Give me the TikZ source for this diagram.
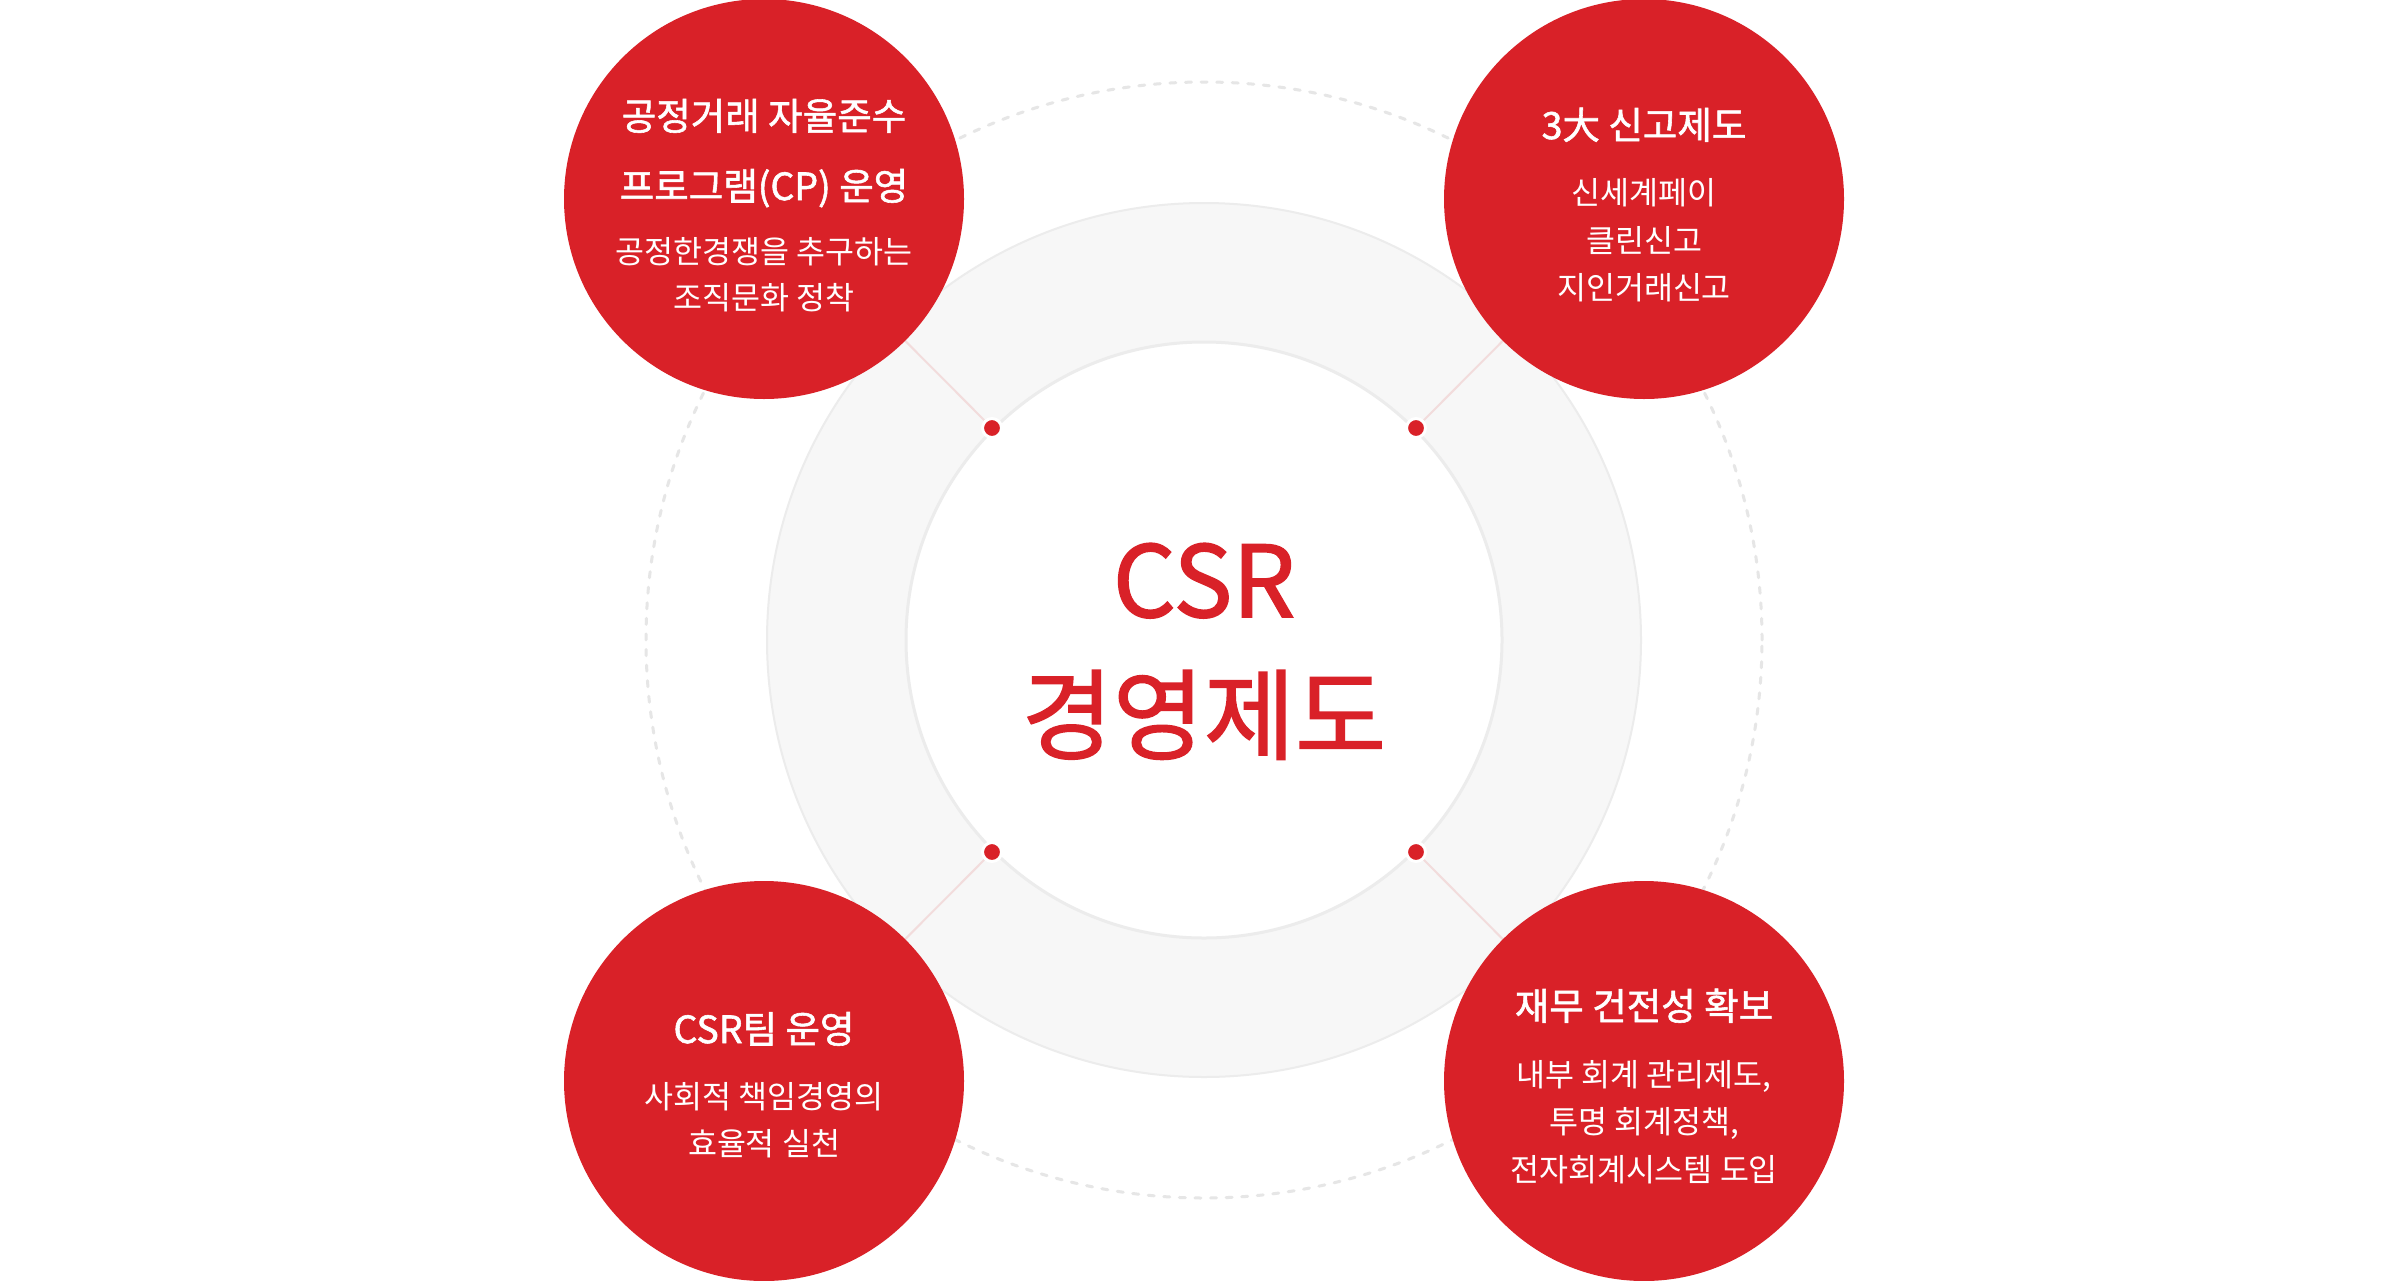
\documentclass[tikz,border=0pt]{standalone}
\usepackage{fontspec}
\setmainfont{Noto Sans CJK KR}
\newfontfamily\krmed[FakeBold=1.5]{Noto Sans CJK KR}
\newfontfamily\krreg{Noto Sans CJK KR}
\usetikzlibrary{backgrounds}
\definecolor{csrred}{HTML}{D92128}
\definecolor{ringfill}{HTML}{F7F7F7}
\definecolor{ringline}{HTML}{ECECEC}
\definecolor{dashgray}{HTML}{E6E6E6}
\definecolor{connpink}{HTML}{F2DCDC}
\begin{document}
\begin{tikzpicture}[x=1pt,y=-1pt,
  redcirc/.style={circle,fill=csrred,minimum size=400pt,inner sep=0pt},
  reddot/.style={circle,fill=csrred,draw=white,line width=3pt,minimum size=19pt,inner sep=0pt},
  conn/.style={draw=connpink,line width=2pt},
  ttl/.style={anchor=base,text=white,font=\krmed\fontsize{37.5}{37.5}\selectfont,inner sep=0pt},
  sub/.style={anchor=base,text=white,font=\krreg\fontsize{31.5}{31.5}\selectfont,inner sep=0pt},
  big/.style={anchor=base,text=csrred,font=\krmed\fontsize{99}{99}\selectfont,inner sep=0pt}]
\useasboundingbox (0,0) rectangle (2400,1280);

% center
\coordinate (c) at (1204,640);

% red circles
\node[redcirc] (tl) at (764,199) {};
\node[redcirc] (tr) at (1644,199) {};
\node[redcirc] (bl) at (764,1081) {};
\node[redcirc] (br) at (1644,1081) {};

% dots on inner circle
\node[reddot] (dtl) at (992,428) {};
\node[reddot] (dtr) at (1416,428) {};
\node[reddot] (dbl) at (992,852) {};
\node[reddot] (dbr) at (1416,852) {};

% centre text
\node[big] (csr) at (1204,617) {CSR};
\node[big] (csr2) at (1204,752) {경영제도};

% top-left
\node[ttl] (tl1) at (764,130) {공정거래 자율준수};
\node[ttl] (tl2) at (764,200) {프로그램(CP) 운영};
\node[sub] (tl3) at (764,263) {공정한경쟁을 추구하는};
\node[sub] (tl4) at (764,309) {조직문화 정착};

% top-right
\node[ttl] (tr1) at (1644,139) {3大 신고제도};
\node[sub] (tr2) at (1644,204) {신세계페이};
\node[sub] (tr3) at (1644,252) {클린신고};
\node[sub] (tr4) at (1644,299) {지인거래신고};

% bottom-left
\node[ttl] (bl1) at (764,1043) {CSR팀 운영};
\node[sub] (bl2) at (764,1108) {사회적 책임경영의};
\node[sub] (bl3) at (764,1155) {효율적 실천};

% bottom-right
\node[ttl] (br1) at (1644,1020) {재무 건전성 확보};
\node[sub] (br2) at (1644,1086) {내부 회계 관리제도,};
\node[sub] (br3) at (1644,1133) {투명 회계정책,};
\node[sub] (br4) at (1644,1181) {전자회계시스템 도입};

\begin{pgfonlayer}{background}
  \fill[white] (0,0) rectangle (2400,1280);
  \draw[dashgray,line width=3pt,dash pattern=on 6pt off 9.6pt,line cap=round] (c) circle[radius=558pt];
  \draw[ringline,fill=ringfill,line width=2pt] (c) circle[radius=437pt];
  \draw[ringline,fill=white,line width=3pt] (c) circle[radius=298pt];
  \draw[conn] (dtl.center) -- (tl.center);
  \draw[conn] (dtr.center) -- (tr.center);
  \draw[conn] (dbl.center) -- (bl.center);
  \draw[conn] (dbr.center) -- (br.center);
\end{pgfonlayer}
\end{tikzpicture}
\end{document}
